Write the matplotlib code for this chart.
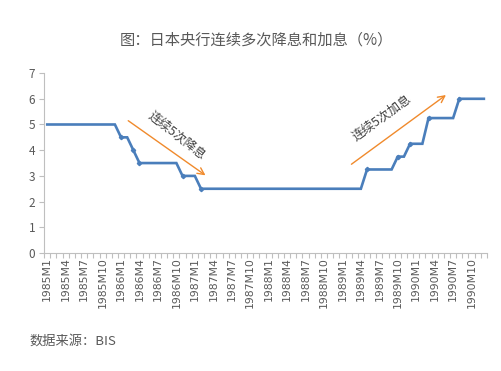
import numpy as np
import matplotlib
matplotlib.use('Agg')
import matplotlib.pyplot as plt

plt.rcParams['font.family'] = ['Noto Sans CJK SC', 'DejaVu Sans']

# monthly discount rate, 1985M1 .. 1990M12
months = ['%dM%d' % (y, m) for y in range(1985, 1991) for m in range(1, 13)]
rate = ([5.0] * 12 +                                  # 1985
        [4.5, 4.5, 4.0, 3.5, 3.5, 3.5, 3.5, 3.5, 3.5, 3.5, 3.0, 3.0] +   # 1986
        [3.0] + [2.5] * 11 +                          # 1987
        [2.5] * 12 +                                  # 1988
        [2.5, 2.5, 2.5, 2.5, 3.25, 3.25, 3.25, 3.25, 3.25, 3.75, 3.75, 4.25] +  # 1989
        [4.25, 4.25, 5.25, 5.25, 5.25, 5.25, 5.25, 6.0, 6.0, 6.0, 6.0, 6.0])    # 1990

# arrows / annotations (month index, value)
cut_arrow = [(12.8, 5.21), (26.1, 2.96)]
hike_arrow = [(49.1, 3.39), (65.2, 6.21)]
cut_label = '连续5次降息'
hike_label = '连续5次加息'

title = '图：日本央行连续多次降息和加息（%）'
source = '数据来源：BIS'

grey = '#595959'
axcol = '#BFBFBF'
blue = '#4A7EBB'
orange = '#F08A2C'

fig = plt.figure(figsize=(5.02, 3.71), dpi=100)
ax = fig.add_axes([0.088, 0.318, 0.882, 0.485])

x = np.arange(len(months))
changed = [0] + [i for i in range(1, len(rate)) if rate[i] != rate[i - 1]]
ax.plot(x, rate, color=blue, lw=1.9, marker='D', ms=2.2,
        markevery=changed[1:], solid_joinstyle='miter')

ax.set_xlim(-0.5, len(months) - 0.5)
ax.set_ylim(0, 7)
ax.set_yticks(range(0, 8))

ax.set_xticks(x[::3])
ax.set_xticklabels(months[::3], rotation=90, fontsize=7.8, color=grey,
                   family=['DejaVu Sans'])
ax.set_xticks(np.arange(-0.5, len(months), 1), minor=True)
ax.tick_params(axis='x', which='major', length=0, pad=3)
ax.tick_params(axis='x', which='minor', length=3.5, color=axcol, width=0.8)
ax.tick_params(axis='y', length=3.5, color=axcol, width=0.8, labelsize=8.5,
               labelcolor=grey, pad=3)

for s in ['top', 'right']:
    ax.spines[s].set_visible(False)
for s in ['left', 'bottom']:
    ax.spines[s].set_color(axcol)
    ax.spines[s].set_linewidth(0.8)

for (x0, y0), (x1, y1) in [cut_arrow, hike_arrow]:
    ax.annotate('', xy=(x1, y1), xytext=(x0, y0),
                arrowprops=dict(arrowstyle='->', color=orange, lw=1.0,
                                mutation_scale=12))

ax.text(21.1, 4.59, cut_label, rotation=-38, ha='center', va='center',
        fontsize=9, color='#404040', rotation_mode='anchor')
ax.text(54.4, 5.25, hike_label, rotation=36, ha='center', va='center',
        fontsize=9, color='#404040', rotation_mode='anchor')

fig.text(0.51, 0.892, title, ha='center', va='center', fontsize=11, color=grey)
fig.text(0.058, 0.081, source, ha='left', va='center', fontsize=9.5, color=grey)

fig.savefig('out.png', dpi=100)
